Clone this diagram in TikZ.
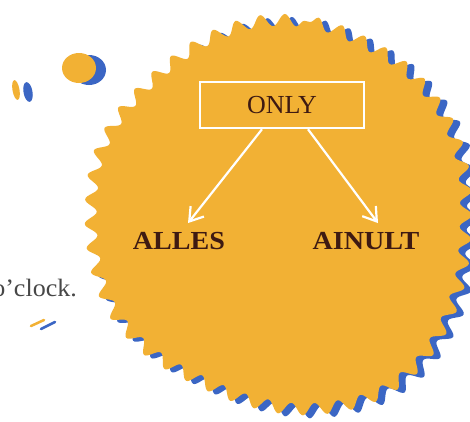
\documentclass[tikz,border=0pt]{standalone}
\usepackage{fontspec}
\setmainfont{Liberation Serif}
\usetikzlibrary{arrows.meta,decorations.pathmorphing}
\definecolor{sunorange}{HTML}{F2B134}
\definecolor{printblue}{HTML}{3B66C4}
\definecolor{inkbrown}{HTML}{3E1A12}
\definecolor{textgray}{HTML}{474747}
\begin{document}
\begin{tikzpicture}[x=1pt,y=-1pt,
  blobedge/.style={decorate,decoration={snake,amplitude=6pt,segment length=24pt}},
  label/.style={font=\fontsize{26}{30}\selectfont\bfseries,text=inkbrown,inner sep=1pt},
  arrowline/.style={draw=white,line width=2.2pt,-{Straight Barb[length=13pt,width=17pt,line width=2.2pt]}}]
\useasboundingbox (0,0) rectangle (470,421);
\fill[white] (0,0) rectangle (470,421);
\begin{scope}
\clip (0,0) rectangle (470,421);
% the sun-shaped blot, its blue misprint underneath
\def\blotpath{plot[smooth cycle,tension=0.6] coordinates {
  (255,20) (310,22) (360,42) (405,72) (440,117) (457,165) (460,220)
  (454,280) (435,330) (405,370) (360,398) (300,408) (245,400) (195,380)
  (150,355) (120,327) (102,300) (89,260) (85,210) (91,160) (110,120)
  (140,85) (175,55) (210,34)}}
\fill[printblue,blobedge,shift={(7,3)}] \blotpath;
\fill[sunorange,blobedge] \blotpath;
% stray drops
\fill[printblue] (89,70) ellipse [x radius=17,y radius=15];
\fill[sunorange] (79,68) ellipse [x radius=17,y radius=15];
\fill[sunorange,rotate around={10:(16,90)}] (16,90) ellipse [x radius=3.5,y radius=10];
\fill[printblue,rotate around={10:(28,92)}] (28,92) ellipse [x radius=4.5,y radius=10];
\draw[sunorange,line width=2.5pt,line cap=round] (31,326) -- (44,320);
\draw[printblue,line width=2.5pt,line cap=round] (41,329) -- (55,322);
% text at the left margin
\node[anchor=base east,text=textgray,inner sep=0pt,font=\fontsize{25}{30}\selectfont] (clock) at (77,296) {\scalebox{1.04}[1]{o’clock.}};
\end{scope}
% the diagram on the blot
\node[draw=white,line width=2.5pt,minimum width=164pt,minimum height=46pt,inner sep=0pt,
  text=inkbrown,font=\fontsize{26}{30}\selectfont] (only) at (282,105) {ONLY};
\node[label] (alles) at (179,241) {\scalebox{1.08}[1]{ALLES}};
\node[label] (ainult) at (366,241) {\scalebox{1.08}[1]{AINULT}};
\draw[arrowline] ([xshift=-20pt]only.south) -- ([xshift=9pt,yshift=8pt]alles.north);
\draw[arrowline] ([xshift=26pt]only.south) -- ([xshift=12pt,yshift=8pt]ainult.north);
\end{tikzpicture}
\end{document}
